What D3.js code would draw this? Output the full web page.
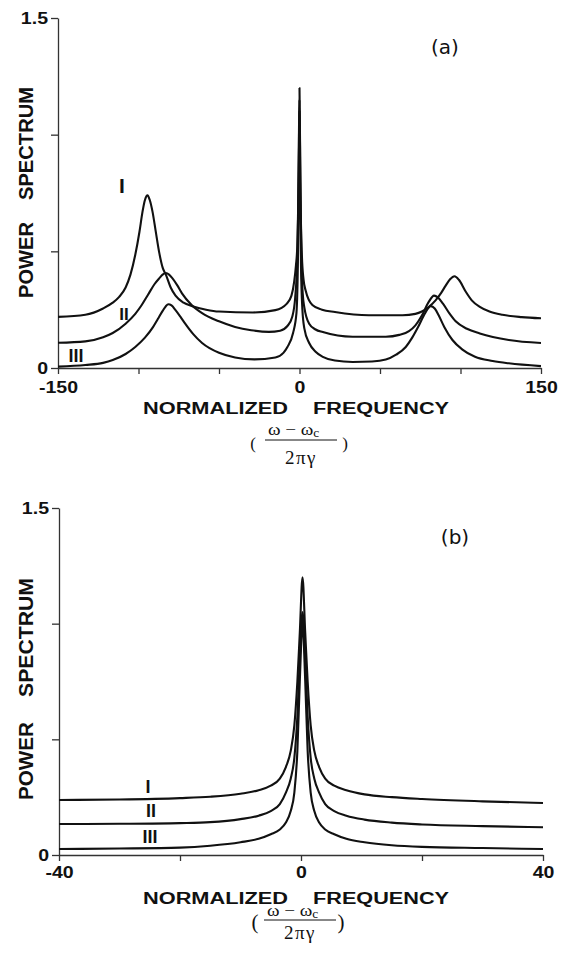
<!DOCTYPE html>
<html>
<head>
<meta charset="utf-8">
<script src="https://cdn.jsdelivr.net/npm/d3@7"></script>
<style>
  html, body { margin: 0; padding: 0; background: #fff; }
  svg { display: block; }
</style>
</head>
<body>
<script>
// ---------------- DATA ----------------
// Panel (a): frequency range -150..150
const aXTicks = [-150, -100, -50, 0, 50, 100, 150];
const aXTickLabels = ["-150", "", "", "0", "", "", "150"];
const aYTicks = [0, 0.5, 1.0, 1.5];
const aYTickLabels = ["0", "", "", "1.5"];

const aCurveI = [[-150,0.219],[-133,0.228],[-122,0.255],[-116,0.28],[-112,0.305],[-108,0.345],[-105,0.4],[-102,0.485],[-99.4,0.584],[-97.5,0.67],[-96,0.72],[-94.4,0.74],[-93,0.72],[-91.3,0.67],[-89.4,0.59],[-87,0.49],[-85,0.43],[-83,0.4],[-80,0.345],[-77,0.31],[-72,0.28],[-66.5,0.265],[-58,0.25],[-50,0.242],[-29,0.238],[-15,0.248],[-8,0.275],[-5,0.31],[-3.3,0.37],[-2.2,0.44],[-1.4,0.52],[-0.6,0.8],[0,1.2],[0.6,0.75],[1.5,0.48],[2.5,0.38],[3.9,0.33],[8,0.27],[14,0.25],[22,0.24],[43,0.226],[64,0.226],[72,0.232],[76,0.242],[80,0.26],[84.5,0.29],[88,0.322],[90.7,0.352],[93.5,0.38],[96.3,0.393],[99,0.378],[103,0.33],[107,0.29],[112,0.262],[118,0.242],[126,0.228],[138,0.218],[150,0.213]];
const aCurveII = [[-150,0.108],[-133,0.114],[-122,0.132],[-116,0.15],[-108,0.19],[-102,0.232],[-98,0.27],[-94,0.315],[-90,0.36],[-87,0.385],[-85,0.4],[-83,0.407],[-81,0.4],[-79,0.385],[-76,0.355],[-73,0.32],[-67,0.27],[-60.5,0.235],[-50,0.2],[-40,0.176],[-30,0.162],[-19,0.155],[-12,0.16],[-7.5,0.18],[-4.5,0.22],[-2.7,0.3],[-1.2,0.5],[-0.5,0.85],[0,1.15],[0.5,0.8],[1.2,0.45],[2,0.32],[3,0.26],[6,0.19],[10,0.165],[14.5,0.154],[33,0.134],[53.6,0.134],[62,0.142],[68,0.158],[72,0.183],[76,0.225],[80,0.28],[83.6,0.31],[86,0.302],[89,0.277],[93,0.235],[97,0.2],[104,0.168],[112,0.148],[130,0.12],[150,0.107]];
const aCurveIII = [[-150,0.006],[-133,0.013],[-122,0.022],[-116,0.034],[-108,0.06],[-102,0.09],[-96,0.13],[-91,0.175],[-88,0.21],[-85,0.245],[-83,0.265],[-81.5,0.273],[-79.5,0.268],[-77,0.248],[-74,0.22],[-71,0.19],[-66,0.145],[-60.5,0.107],[-50,0.065],[-40,0.045],[-28,0.037],[-15,0.045],[-10,0.065],[-7.5,0.09],[-4,0.15],[-1.9,0.235],[-0.9,0.5],[-0.4,0.85],[0,1.1],[0.4,0.8],[0.9,0.45],[1.8,0.25],[3,0.17],[6,0.107],[10,0.07],[14.5,0.048],[22,0.032],[33,0.026],[45,0.028],[53.6,0.036],[60,0.057],[66,0.09],[70,0.13],[74,0.18],[78,0.235],[81.5,0.265],[84,0.255],[86.5,0.225],[90,0.175],[95,0.12],[101,0.08],[109,0.048],[120,0.03],[130,0.02],[150,0.008]];

// Panel (b): frequency range -40..40
const bXTicks = [-40, -20, 0, 20, 40];
const bXTickLabels = ["-40", "", "0", "", "40"];
const bYTicks = [0, 0.5, 1.0, 1.5];
const bYTickLabels = ["0", "", "", "1.5"];

const bCurveI = [[-40,0.238],[-30,0.24],[-20,0.246],[-15,0.252],[-10,0.265],[-7,0.28],[-5,0.3],[-3.5,0.33],[-2.5,0.38],[-1.7,0.45],[-1.1,0.56],[-0.6,0.75],[-0.2,0.96],[0.25,1.2],[0.7,0.96],[1.1,0.75],[1.6,0.56],[2.2,0.45],[3,0.38],[4,0.33],[5.5,0.3],[7.5,0.28],[10.5,0.262],[15,0.25],[20,0.242],[30,0.232],[40,0.225]];
const bCurveII = [[-40,0.134],[-30,0.135],[-20,0.138],[-15,0.142],[-10,0.155],[-7,0.17],[-5,0.19],[-3.5,0.22],[-2.5,0.27],[-1.7,0.33],[-1.1,0.42],[-0.6,0.6],[-0.2,0.85],[0.25,1.05],[0.7,0.85],[1.1,0.6],[1.6,0.42],[2.2,0.33],[3,0.27],[4,0.22],[5.5,0.19],[7.5,0.17],[10.5,0.153],[15,0.14],[20,0.132],[30,0.125],[40,0.12]];
const bCurveIII = [[-40,0.026],[-30,0.028],[-20,0.032],[-15,0.04],[-10,0.055],[-7,0.07],[-5,0.09],[-3.5,0.11],[-2.5,0.14],[-1.7,0.19],[-1.1,0.27],[-0.6,0.45],[-0.2,0.75],[0.25,1.0],[0.7,0.75],[1.1,0.45],[1.6,0.27],[2.2,0.19],[3,0.14],[4,0.11],[5.5,0.09],[7.5,0.07],[10.5,0.055],[15,0.042],[20,0.035],[30,0.03],[40,0.026]];

const curveNames = ["I", "II", "III"];

// ---------------- DRAWING ----------------
const W = 574, H = 962;
const svg = d3.select("body").append("svg").attr("width", W).attr("height", H);
const INK = "#111";
const SANS = "'Liberation Sans', Arial, sans-serif";
const SERIF = "'Liberation Serif', 'Times New Roman', serif";

function stretch(sel, f) {
  sel.each(function () {
    const len = this.getComputedTextLength();
    if (len > 0) d3.select(this).attr("textLength", len * f).attr("lengthAdjust", "spacingAndGlyphs");
  });
}

function panel(cfg) {
  const x = d3.scaleLinear().domain(cfg.xDomain).range(cfg.xRange);
  const y = d3.scaleLinear().domain([0, 1.5]).range(cfg.yRange);
  const g = svg.append("g");

  // y axis
  const ya = g.append("g").attr("transform", `translate(${cfg.xRange[0]},0)`)
    .call(d3.axisLeft(y).tickValues(cfg.yTicks).tickSize(7).tickSizeOuter(0).tickPadding(3)
      .tickFormat((d, i) => cfg.yTickLabels[i]));
  // x axis
  const xa = g.append("g").attr("transform", `translate(0,${cfg.yRange[0]})`)
    .call(d3.axisBottom(x).tickValues(cfg.xTicks).tickSize(6).tickSizeOuter(0).tickPadding(cfg.xPad)
      .tickFormat((d, i) => cfg.xTickLabels[i]));
  [ya, xa].forEach(a => {
    a.select(".domain").attr("stroke", "#333").attr("stroke-width", 1.3);
    a.selectAll(".tick line").attr("stroke", "#333").attr("stroke-width", 1.3);
    a.selectAll("text").attr("fill", INK).attr("font-family", SANS)
      .attr("font-weight", "bold").attr("font-size", 16);
    stretch(a.selectAll("text"), 1.22);
  });

  // curves
  const line = d3.line().x(d => x(d[0])).y(d => y(d[1])).curve(d3.curveMonotoneX);
  cfg.curves.forEach(c => {
    g.append("path").datum(c).attr("d", line)
      .attr("fill", "none").attr("stroke", INK).attr("stroke-width", 2.1)
      .attr("stroke-linejoin", "round");
  });

  // curve labels
  cfg.labels.forEach((l, i) => {
    g.append("text").attr("x", l[0]).attr("y", l[1]).attr("text-anchor", "middle")
      .attr("font-family", SANS).attr("font-weight", "bold").attr("font-size", l[2])
      .attr("fill", INK).text(curveNames[i]);
  });

  // panel tag
  g.append("text").attr("x", cfg.tag[0]).attr("y", cfg.tag[1]).attr("text-anchor", "middle")
    .attr("font-family", "'DejaVu Sans', sans-serif").attr("font-size", 20).attr("fill", INK)
    .text(cfg.tag[2]);

  // y title (two words)
  const yt = cfg.yTitle;
  g.append("text").attr("transform", `translate(${yt.x},${yt.powerBottom}) rotate(-90)`)
    .attr("font-family", SANS).attr("font-weight", "bold").attr("font-size", 20).attr("fill", INK)
    .attr("textLength", yt.powerLen).attr("lengthAdjust", "spacingAndGlyphs")
    .text("POWER");
  g.append("text").attr("transform", `translate(${yt.x},${yt.specBottom}) rotate(-90)`)
    .attr("font-family", SANS).attr("font-weight", "bold").attr("font-size", 20).attr("fill", INK)
    .attr("textLength", yt.specLen).attr("lengthAdjust", "spacingAndGlyphs")
    .text("SPECTRUM");

  // x title
  const xt = cfg.xTitle;
  g.append("text").attr("x", 143).attr("y", xt.base)
    .attr("font-family", SANS).attr("font-weight", "bold").attr("font-size", 16).attr("fill", INK)
    .attr("textLength", 145).attr("lengthAdjust", "spacingAndGlyphs").text("NORMALIZED");
  g.append("text").attr("x", 313).attr("y", xt.base)
    .attr("font-family", SANS).attr("font-weight", "bold").attr("font-size", 16).attr("fill", INK)
    .attr("textLength", 136).attr("lengthAdjust", "spacingAndGlyphs").text("FREQUENCY");

  // fraction (ω − ωc) / (2πγ)
  const fr = cfg.frac;
  const num = g.append("text").attr("x", fr.cx - 32).attr("y", fr.numBase)
    .attr("font-family", SERIF).attr("font-size", 17).attr("fill", INK);
  num.append("tspan").text("ω − ω");
  num.append("tspan").attr("font-size", 12).attr("dy", 2).text("c");
  stretch(num, 1.12);
  g.append("line").attr("x1", fr.cx - 35).attr("x2", fr.cx + 37)
    .attr("y1", fr.lineY).attr("y2", fr.lineY).attr("stroke", INK).attr("stroke-width", 1);
  g.append("text").attr("x", fr.cx + 1).attr("y", fr.denBase).attr("text-anchor", "middle")
    .attr("font-family", SERIF).attr("font-size", 19).attr("fill", INK)
    .attr("letter-spacing", 1.5).text("2πγ");
  g.append("text").attr("x", fr.cx - fr.parL).attr("y", fr.parBase).attr("text-anchor", "middle")
    .attr("font-family", SERIF).attr("font-size", fr.parSize).attr("fill", INK).text("(");
  g.append("text").attr("x", fr.cx + fr.parR).attr("y", fr.parBase).attr("text-anchor", "middle")
    .attr("font-family", SERIF).attr("font-size", fr.parSize).attr("fill", INK).text(")");
}

panel({
  xDomain: [-150, 150], xRange: [58, 541], yRange: [368, 18],
  xTicks: aXTicks, xTickLabels: aXTickLabels, yTicks: aYTicks, yTickLabels: aYTickLabels,
  xPad: 8,
  curves: [aCurveI, aCurveII, aCurveIII],
  labels: [[122, 193, 21], [124, 320, 17], [76, 362, 18]],
  tag: [445, 54, "(a)"],
  yTitle: { x: 33, powerBottom: 298, powerLen: 76, specBottom: 200, specLen: 113 },
  xTitle: { base: 414 },
  frac: { cx: 300, numBase: 435, lineY: 440, denBase: 464, parBase: 449, parSize: 17, parL: 47, parR: 45 }
});

panel({
  xDomain: [-40, 40], xRange: [59, 543], yRange: [855, 508],
  xTicks: bXTicks, xTickLabels: bXTickLabels, yTicks: bYTicks, yTickLabels: bYTickLabels,
  xPad: 6,
  curves: [bCurveI, bCurveII, bCurveIII],
  labels: [[148, 793, 18], [151, 817, 18], [150, 843, 18]],
  tag: [455, 544, "(b)"],
  yTitle: { x: 33, powerBottom: 800, powerLen: 78, specBottom: 697, specLen: 119 },
  xTitle: { base: 904 },
  frac: { cx: 299, numBase: 916, lineY: 920, denBase: 939, parBase: 929, parSize: 21, parL: 44, parR: 42 }
});
</script>
</body>
</html>
